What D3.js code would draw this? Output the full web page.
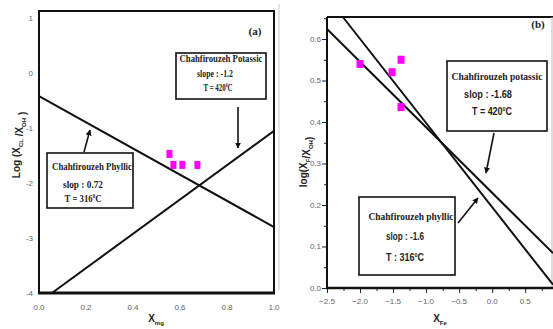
<!DOCTYPE html>
<html>
<head>
<meta charset="utf-8">
<script src="https://cdn.jsdelivr.net/npm/d3@7"></script>
<style>
  body { margin: 0; background: #fff; }
  svg { display: block; }
  .tick-label { font-family: 'Liberation Sans', Arial, sans-serif; font-size: 8px; fill: #666; }
  .axis-title { font-family: 'Liberation Sans', Arial, sans-serif; font-size: 10px; font-weight: bold; fill: #222; }
  .note { font-family: 'Liberation Serif', 'Times New Roman', serif; font-size: 11px; font-weight: bold; fill: #222; }
  .note-sans { font-family: 'Liberation Sans', Arial, sans-serif; font-size: 10px; font-weight: bold; fill: #222; }
</style>
</head>
<body>
<svg id="chart" width="553" height="329"></svg>
<script>
// panel (a): X_mg vs log(X_Cl/X_OH)
const aTicksX = [0, 0.2, 0.4, 0.6, 0.8, 1.0]
const aTicksY = [1, 0, -1, -2, -3, -4]
const aPhyllicLine = [[0, -0.42], [1.0, -2.8]]
const aPotassicLine = [[0.055, -4], [1.0, -1.05]]
const aSampleX = [0.555, 0.572, 0.61, 0.674]
const aSampleY = [-1.47, -1.67, -1.67, -1.67]

// panel (b): X_Fe vs log(X_F/X_OH)
const bTicksX = [-2.5, -2.0, -1.5, -1.0, -0.5, 0.0, 0.5]
const bTicksY = [0.0, 0.1, 0.2, 0.3, 0.4, 0.5, 0.6]
const bPotassicLine = [[-2.5, 0.624], [0.92, 0.084]]
const bPhyllicLine = [[-2.26, 0.653], [0.92, 0.008]]
const bSampleX = [-2.0, -1.515, -1.38, -1.38]
const bSampleY = [0.54, 0.52, 0.55, 0.436]

const svg = d3.select('#chart')

svg.append('defs').append('marker')
  .attr('id', 'arrow')
  .attr('viewBox', '0 0 10 10')
  .attr('refX', 9)
  .attr('refY', 5)
  .attr('markerWidth', 6)
  .attr('markerHeight', 6)
  .attr('markerUnits', 'userSpaceOnUse')
  .attr('orient', 'auto')
  .append('path')
  .attr('d', 'M0,0 L10,5 L0,10 Z')
  .attr('fill', '#111')

// faint separator between the two panels
svg.append('line')
  .attr('x1', 279).attr('x2', 279)
  .attr('y1', 4).attr('y2', 290)
  .attr('stroke', '#ccc')
  .attr('stroke-width', 1)

// ---------- panel (a) ----------
const ax = d3.scaleLinear().domain([0, 1]).range([39, 274])
const ay = d3.scaleLinear().domain([-4, 1.13]).range([293, 11])
const aLine = d3.line().x(d => ax(d[0])).y(d => ay(d[1]))

const ga = svg.append('g')

ga.append('rect')
  .attr('x', ax(0)).attr('y', ay(1.13))
  .attr('width', ax(1) - ax(0)).attr('height', ay(-4) - ay(1.13))
  .attr('fill', 'none').attr('stroke', '#111').attr('stroke-width', 2)

ga.append('line')
  .attr('x1', ax(0) - 1).attr('x2', ax(1) + 1)
  .attr('y1', ay(-4)).attr('y2', ay(-4))
  .attr('stroke', '#111').attr('stroke-width', 3)

ga.selectAll('text.xt')
  .data(aTicksX)
  .enter()
  .append('text')
  .attr('class', 'tick-label xt')
  .attr('x', d => ax(d))
  .attr('y', 310)
  .attr('text-anchor', 'middle')
  .text(d => d3.format('.1f')(d))

ga.selectAll('text.yt')
  .data(aTicksY)
  .enter()
  .append('text')
  .attr('class', 'tick-label yt')
  .attr('x', 33)
  .attr('y', d => ay(d) + 3)
  .attr('text-anchor', 'end')
  .text(d => d)

ga.selectAll('path.fit')
  .data([aPhyllicLine, aPotassicLine])
  .enter()
  .append('path')
  .attr('class', 'fit')
  .attr('d', aLine)
  .attr('fill', 'none')
  .attr('stroke', '#111')
  .attr('stroke-width', 2)

ga.selectAll('rect.sample')
  .data(d3.zip(aSampleX, aSampleY))
  .enter()
  .append('rect')
  .attr('class', 'sample')
  .attr('x', d => ax(d[0]) - 3)
  .attr('y', d => ay(d[1]) - 4)
  .attr('width', 6).attr('height', 8)
  .attr('fill', '#f0f')

// ---------- panel (b) ----------
const bx = d3.scaleLinear().domain([-2.5, 0.92]).range([327, 553])
const by = d3.scaleLinear().domain([0, 0.653]).range([288, 17])
const bLine = d3.line().x(d => bx(d[0])).y(d => by(d[1]))

const gb = svg.append('g')

gb.append('line')
  .attr('x1', bx(-2.5)).attr('x2', 553)
  .attr('y1', by(0.653)).attr('y2', by(0.653))
  .attr('stroke', '#111').attr('stroke-width', 2)
gb.append('line')
  .attr('x1', bx(-2.5)).attr('x2', bx(-2.5))
  .attr('y1', by(0.653)).attr('y2', by(0))
  .attr('stroke', '#111').attr('stroke-width', 2)
gb.append('line')
  .attr('x1', 552).attr('x2', 552)
  .attr('y1', by(0.653)).attr('y2', by(0))
  .attr('stroke', '#bbb').attr('stroke-width', 1)
gb.append('line')
  .attr('x1', bx(-2.5) - 1).attr('x2', 553)
  .attr('y1', by(0)).attr('y2', by(0))
  .attr('stroke', '#111').attr('stroke-width', 2.5)

const bxAxis = d3.axisBottom(bx)
  .tickValues(d3.range(-2.5, 0.8, 0.25))
  .tickSize(0)
  .tickFormat('')
const bxg = gb.append('g').attr('transform', `translate(0,${by(0) + 1})`).call(bxAxis)
bxg.select('.domain').remove()
bxg.selectAll('.tick line')
  .attr('stroke', '#222')
  .attr('y2', (d, i) => i % 2 === 0 ? 4 : 2)

const byAxis = d3.axisLeft(by)
  .tickValues(d3.range(0, 0.651, 0.05))
  .tickSize(0)
  .tickFormat('')
const byg = gb.append('g').attr('transform', `translate(${bx(-2.5) - 1},0)`).call(byAxis)
byg.select('.domain').remove()
byg.selectAll('.tick line')
  .attr('stroke', '#222')
  .attr('x2', (d, i) => i % 2 === 0 ? -4 : -2)

gb.selectAll('text.xt')
  .data(bTicksX)
  .enter()
  .append('text')
  .attr('class', 'tick-label xt')
  .attr('x', d => bx(d))
  .attr('y', 304)
  .attr('text-anchor', 'middle')
  .text(d => d3.format('.1f')(d))

gb.selectAll('text.yt')
  .data(bTicksY)
  .enter()
  .append('text')
  .attr('class', 'tick-label yt')
  .attr('x', 321)
  .attr('y', d => by(d) + 3)
  .attr('text-anchor', 'end')
  .text(d => d3.format('.1f')(d))

gb.selectAll('path.fit')
  .data([bPotassicLine, bPhyllicLine])
  .enter()
  .append('path')
  .attr('class', 'fit')
  .attr('d', bLine)
  .attr('fill', 'none')
  .attr('stroke', '#111')
  .attr('stroke-width', 2)

gb.selectAll('rect.sample')
  .data(d3.zip(bSampleX, bSampleY))
  .enter()
  .append('rect')
  .attr('class', 'sample')
  .attr('x', d => bx(d[0]) - 3.5)
  .attr('y', d => by(d[1]) - 4)
  .attr('width', 7).attr('height', 8)
  .attr('fill', '#f0f')

// ---------- annotations ----------
function noteBox (box, lines) {
  svg.append('rect')
    .attr('x', box[0]).attr('y', box[1])
    .attr('width', box[2] - box[0]).attr('height', box[3] - box[1])
    .attr('fill', '#fff').attr('stroke', '#111').attr('stroke-width', 1.6)

  lines.forEach(function (l) {
    const g = svg.append('g')
    const t = g.append('text')
      .attr('class', l.cls)
      .attr('text-anchor', 'middle')
    t.append('tspan').text(l.text)
    if (l.deg) {
      t.append('tspan').attr('font-size', '6px').attr('dy', -4).text('0')
      t.append('tspan').attr('dy', 4).text('C')
    }
    const w = t.node().getComputedTextLength()
    g.attr('transform', `translate(${l.cx},${l.y}) scale(${l.w / w},1)`)
  })
}

function arrow (x1, y1, x2, y2) {
  svg.append('line')
    .attr('x1', x1).attr('y1', y1)
    .attr('x2', x2).attr('y2', y2)
    .attr('stroke', '#111').attr('stroke-width', 1.6)
    .attr('marker-end', 'url(#arrow)')
}

noteBox([176, 53, 266, 99], [
  { text: 'Chahfirouzeh Potassic', cx: 221, y: 62, w: 83, cls: 'note' },
  { text: 'slope : -1.2', cx: 215, y: 77, w: 36, cls: 'note' },
  { text: 'T = 420', cx: 218, y: 91, w: 29, cls: 'note', deg: true }
])
arrow(238, 107, 238, 148)

noteBox([47, 153, 133, 208], [
  { text: 'Chahfirouzeh Phyllic', cx: 92, y: 170, w: 80, cls: 'note' },
  { text: 'slop : 0.72', cx: 83, y: 188, w: 40, cls: 'note' },
  { text: 'T = 316', cx: 83, y: 202, w: 37, cls: 'note', deg: true }
])
arrow(84, 152, 90, 130)

noteBox([447, 61, 547, 131], [
  { text: 'Chahfirouzeh potassic', cx: 497, y: 80, w: 91, cls: 'note' },
  { text: 'slop : -1.68', cx: 488, y: 98, w: 48, cls: 'note-sans' },
  { text: 'T = 420', cx: 492, y: 115, w: 40, cls: 'note-sans', deg: true }
])
arrow(494, 133, 486, 173)

noteBox([359, 197, 455, 275], [
  { text: 'Chahfirouzeh phyllic', cx: 411, y: 220, w: 85, cls: 'note' },
  { text: 'slop : -1.6', cx: 405, y: 240, w: 38, cls: 'note-sans' },
  { text: 'T : 316', cx: 405, y: 261, w: 38, cls: 'note-sans', deg: true }
])
arrow(458, 223, 478, 198)

svg.append('text').attr('class', 'note').attr('font-size', '10px')
  .attr('x', 255).attr('y', 35).attr('text-anchor', 'middle').text('(a)')
svg.append('text').attr('class', 'note').attr('font-size', '10px')
  .attr('x', 538).attr('y', 28).attr('text-anchor', 'middle').text('(b)')

// axis titles
function subTitle (x, y, rotate, parts) {
  const t = svg.append('text')
    .attr('class', 'axis-title')
    .attr('text-anchor', 'middle')
    .attr('transform', `translate(${x},${y})` + (rotate ? ' rotate(-90)' : ''))
  parts.forEach(function (p) {
    if (p.sub) {
      t.append('tspan').attr('font-size', '6px').attr('dy', 3).text(p.text)
      t.append('tspan').attr('dy', -3).text('')
    } else {
      t.append('tspan').text(p.text)
    }
  })
}

subTitle(20, 145, true, [
  { text: 'Log (X' }, { text: 'CL', sub: true }, { text: ' /X' }, { text: 'OH', sub: true }, { text: ' )' }
])
subTitle(156, 322, false, [{ text: 'X' }, { text: 'mg', sub: true }])

subTitle(307, 162, true, [
  { text: 'log(X' }, { text: 'F', sub: true }, { text: '/X' }, { text: 'OH', sub: true }, { text: ')' }
])
subTitle(440, 322, false, [{ text: 'X' }, { text: 'Fe', sub: true }])
</script>
</body>
</html>
